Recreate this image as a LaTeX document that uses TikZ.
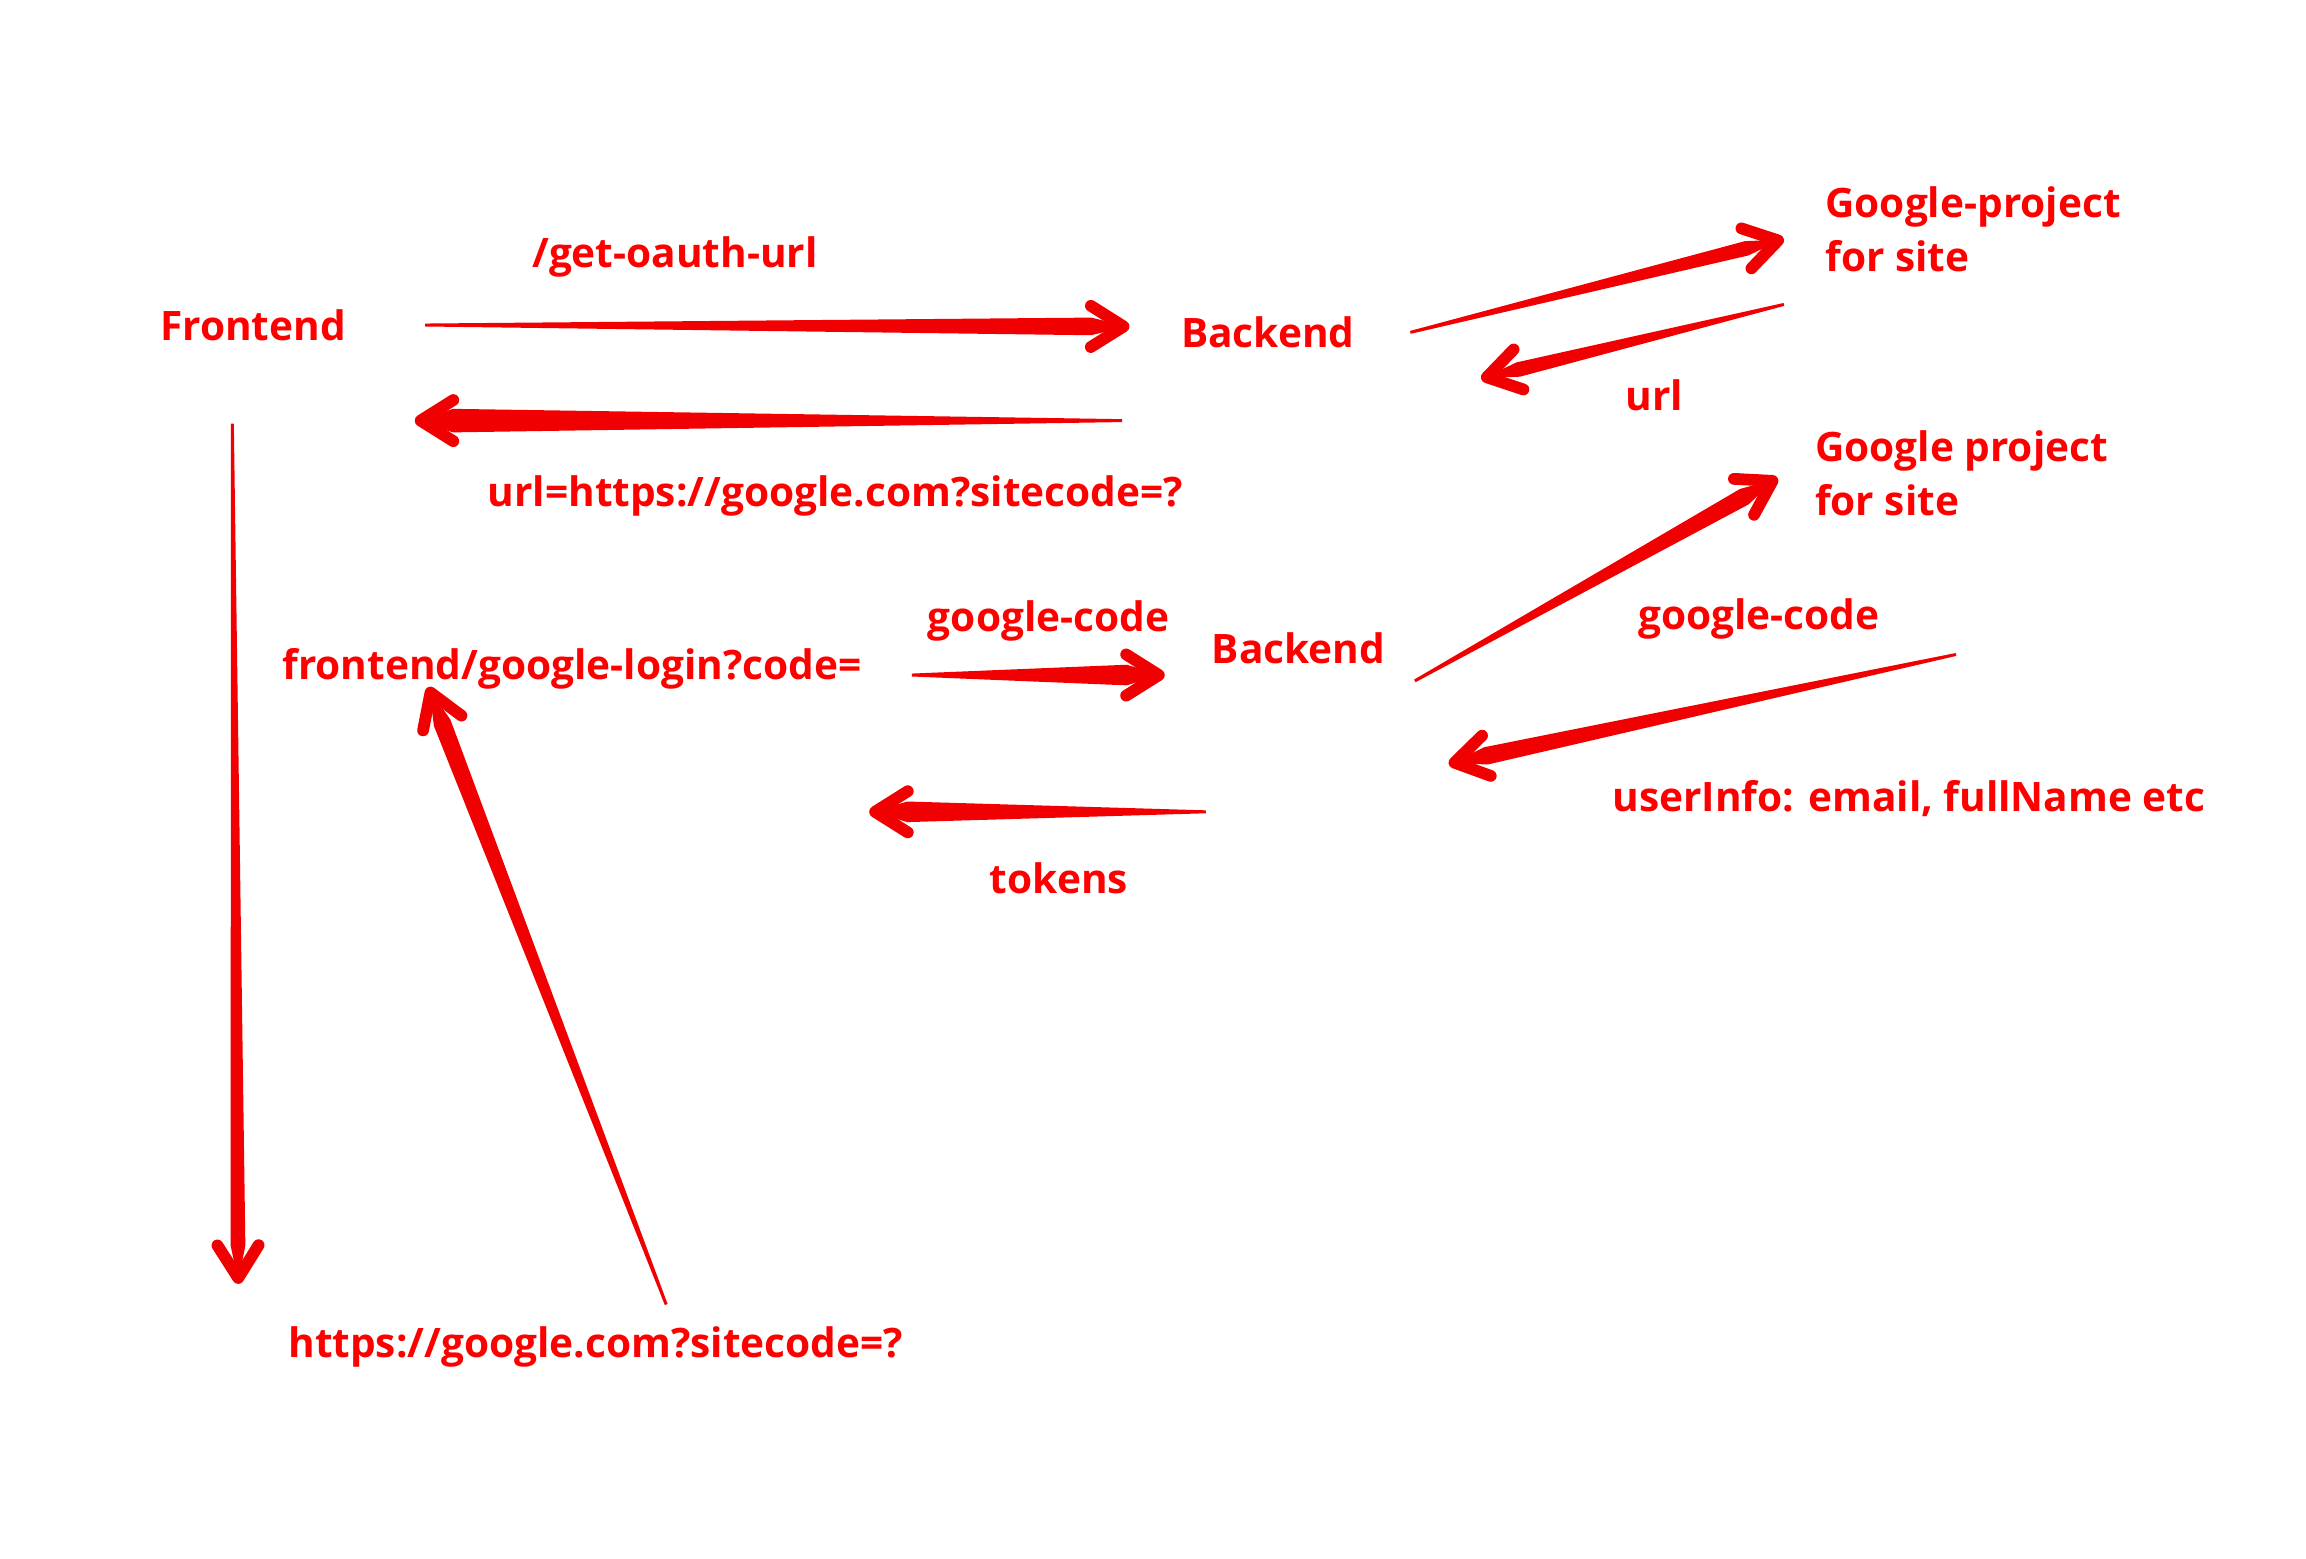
\documentclass[tikz,border=0pt]{standalone}
\usepackage{fontspec}
\setmainfont{Open Sans}
\usetikzlibrary{calc}
\definecolor{arrred}{RGB}{240,0,0}
\definecolor{txtred}{RGB}{255,0,0}
% tapered arrow: #1 tail, #2 tip, #3 half width at head, #4 length of the thick part
\newcommand{\tarr}[4]{%
  \fill[arrred] let \p1=(#1),\p2=(#2),\n1={atan2(\y2-\y1,\x2-\x1)} in
    ($(\p1)+(\n1+90:1pt)$) -- ($(\p2)+(\n1+180:#4)+(\n1+90:#3)$) -- (\p2)
    -- ($(\p2)+(\n1+180:#4)+(\n1-90:#3)$) -- ($(\p1)+(\n1-90:1pt)$) -- cycle;
  \draw[chev] let \p1=(#1),\p2=(#2),\n1={atan2(\y2-\y1,\x2-\x1)} in
    ($(\p2)+(\n1+180+30:28pt)$) -- ($(\p2)+(\n1+180:2pt)$) -- ($(\p2)+(\n1+180-30:28pt)$);
}
\tikzset{
  lbl/.style={text=txtred, font=\fontsize{27.6}{37}\selectfont\bfseries, inner sep=0pt},
  lbll/.style={lbl, align=left},
  chev/.style={draw=arrred, line width=8pt, line cap=round, line join=round},
}
\begin{document}
\begin{tikzpicture}[x=1pt,y=-1pt]
\useasboundingbox[fill=white] (0,0) rectangle (1568,1060);
% labels
\node[lbl] (getoauth) at (459,175) {/get-oauth-url};
\node[lbl] (frontend) at (172,221) {Frontend};
\node[lbl] (backend1) at (862,226) {Backend};
\node[lbll, anchor=west] (gp1) at (1241,156) {Google-project\\for site};
\node[lbl] (url) at (1125,269) {url};
\node[lbl] (urlresp) at (568,337) {url=https://google.com?sitecode=?};
\node[lbll, anchor=west] (gp2) at (1234,322) {Google project\\for site};
\node[lbl] (gcode1) at (713,422) {google-code};
\node[lbl] (backend2) at (883,441) {Backend};
\node[lbl] (gcode2) at (1196,421) {google-code};
\node[lbl] (login) at (389,455) {frontend/google-login?code=};
\node[lbl] (userinfo) at (1298,543) {userInfo: email, fullName etc};
\node[lbl] (tokens) at (720,597) {tokens};
\node[lbl] (google) at (405,916) {https://google.com?sitecode=?};
% arrow end points
\coordinate (a1t) at (289,221); \coordinate (a1h) at (766,222);
\coordinate (a2t) at (763,286); \coordinate (a2h) at (284,286);
\coordinate (a3t) at (959,226); \coordinate (a3h) at (1211,163);
\coordinate (a4t) at (1213,207); \coordinate (a4h) at (1009,257);
\coordinate (a5t) at (158,288); \coordinate (a5h) at (162,871);
\coordinate (a6t) at (453,887); \coordinate (a6h) at (292,469);
\coordinate (a7t) at (620,459); \coordinate (a7h) at (790,459);
\coordinate (a8t) at (962,463); \coordinate (a8h) at (1207,326);
\coordinate (a9t) at (1330,445); \coordinate (a9h) at (987,519);
\coordinate (a10t) at (820,552); \coordinate (a10h) at (593,552);
% arrows
\tarr{a1t}{a1h}{6pt}{24pt}
\tarr{a2t}{a2h}{8pt}{24pt}
\tarr{a3t}{a3h}{5pt}{24pt}
\tarr{a4t}{a4h}{5pt}{24pt}
\tarr{a5t}{a5h}{5pt}{24pt}
\tarr{a6t}{a6h}{6pt}{24pt}
\tarr{a7t}{a7h}{7pt}{24pt}
\tarr{a8t}{a8h}{6pt}{24pt}
\tarr{a9t}{a9h}{6pt}{24pt}
\tarr{a10t}{a10h}{7pt}{24pt}
\end{tikzpicture}
\end{document}
